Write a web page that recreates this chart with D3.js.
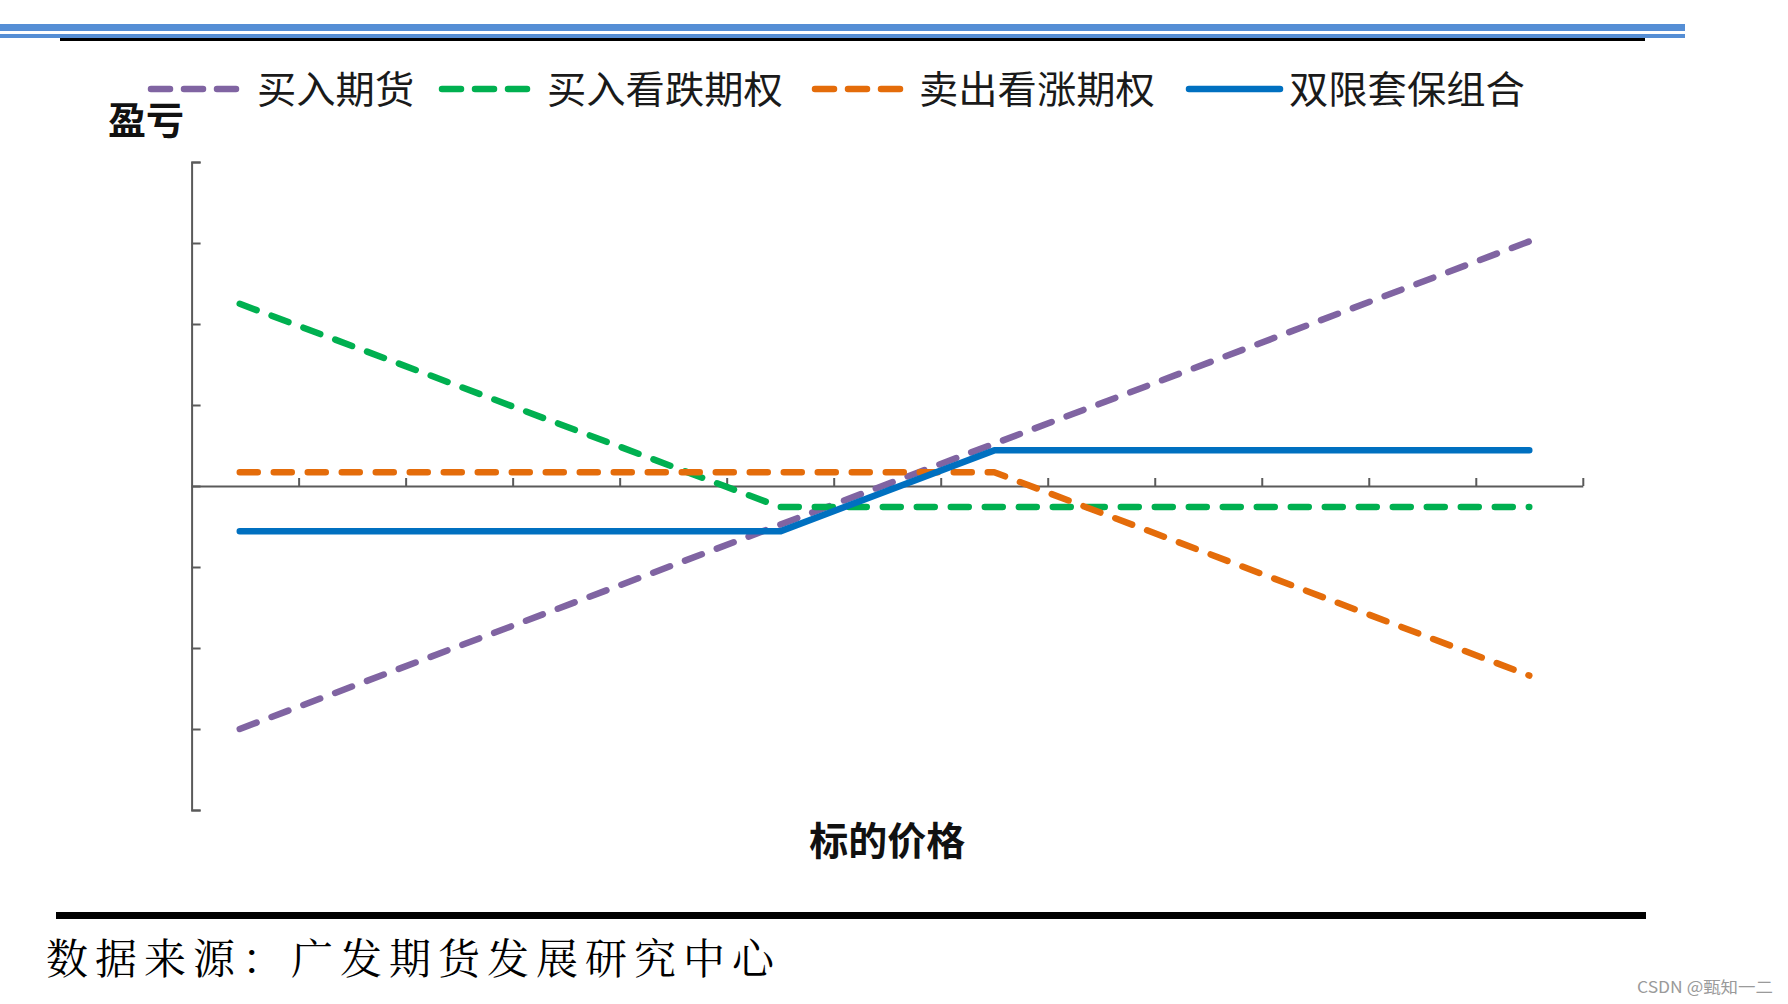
<!DOCTYPE html>
<html>
<head>
<meta charset="utf-8">
<script src="https://cdn.jsdelivr.net/npm/d3@7"></script>
<style>
  html, body { margin: 0; padding: 0; background: #fff; }
  svg { display: block; }
</style>
</head>
<body>
<script>
// ---- data ----
const xDomain = [0, 13];
const yDomain = [-4, 4];
const xTickValues = [1, 2, 3, 4, 5, 6, 7, 8, 9, 10, 11, 12, 13];
const yTickValues = [-4, -3, -2, -1, 0, 1, 2, 3, 4];

const seriesNames = ["买入期货", "买入看跌期权", "卖出看涨期权", "双限套保组合"];
const futuresX = [0.45, 12.5];
const futuresY = [-3.0, 3.02];
const putX = [0.45, 5.5, 12.5];
const putY = [2.25, -0.26, -0.26];
const callX = [0.45, 7.5, 12.5];
const callY = [0.17, 0.17, -2.34];
const collarX = [0.45, 5.5, 7.5, 12.5];
const collarY = [-0.56, -0.56, 0.44, 0.44];

const yLabel = "盈亏";
const xLabel = "标的价格";
const sourceText = "数据来源：广发期货发展研究中心";
const watermark = "CSDN @甄知一二";

// ---- styles ----
const colors = ["#8064A2", "#00B050", "#E46C0A", "#0070C0"];
const dashed = [true, true, true, false];

const W = 1788, H = 1004;
const svg = d3.select("body").append("svg").attr("width", W).attr("height", H);
svg.append("rect").attr("width", W).attr("height", H).attr("fill", "#fff");

// header rules
svg.append("rect").attr("x", 0).attr("y", 24).attr("width", 1685).attr("height", 7).attr("fill", "#558ED5");
svg.append("rect").attr("x", 0).attr("y", 34).attr("width", 1685).attr("height", 4).attr("fill", "#558ED5");
svg.append("rect").attr("x", 60).attr("y", 38).attr("width", 1585).attr("height", 3).attr("fill", "#000");

// footer rule
svg.append("rect").attr("x", 56).attr("y", 912).attr("width", 1590).attr("height", 7).attr("fill", "#000");

const x = d3.scaleLinear().domain(xDomain).range([191.6, 1582.8]);
const y = d3.scaleLinear().domain(yDomain).range([810, 162]);

// y axis
const yAxis = svg.append("g").attr("transform", `translate(${x(0)},0)`)
  .call(d3.axisLeft(y).tickValues(yTickValues).tickSize(-9).tickSizeOuter(-9).tickFormat(""));
yAxis.selectAll("path, line").attr("stroke", "#5a5a5a").attr("stroke-width", 2);

// x axis
const xAxis = svg.append("g").attr("transform", `translate(0,${y(0)})`)
  .call(d3.axisBottom(x).tickValues(xTickValues).tickSize(-8).tickSizeOuter(0).tickFormat(""));
xAxis.selectAll("path, line").attr("stroke", "#5a5a5a").attr("stroke-width", 2);

// lines
const seriesXs = [futuresX, putX, callX, collarX];
const seriesYs = [futuresY, putY, callY, collarY];
const line = d3.line().x(d => x(d[0])).y(d => y(d[1]));
seriesXs.forEach((xs, i) => {
  const pts = xs.map((v, j) => [v, seriesYs[i][j]]);
  const p = svg.append("path").datum(pts).attr("d", line)
    .attr("fill", "none").attr("stroke", colors[i]).attr("stroke-width", 6.5)
    .attr("stroke-linejoin", "round");
  if (dashed[i]) p.attr("stroke-dasharray", "18,16").attr("stroke-linecap", "round");
  else p.attr("stroke-linecap", "round");
});

// legend
const legendSym = [[148, 239], [439, 530], [812, 903], [1186, 1283]];
const legendText = [257, 547, 919, 1289];
const legendY = 86;
seriesNames.forEach((name, i) => {
  const l = svg.append("line").attr("x1", legendSym[i][0] + 3).attr("x2", legendSym[i][1] - 3)
    .attr("y1", legendY + 3).attr("y2", legendY + 3)
    .attr("stroke", colors[i]).attr("stroke-width", 6.5).attr("stroke-linecap", "round");
  if (dashed[i]) l.attr("stroke-dasharray", "19,14");
  svg.append("text").attr("x", legendText[i]).attr("y", legendY)
    .attr("dominant-baseline", "central")
    .attr("font-family", "'Noto Sans CJK SC', sans-serif").attr("font-size", 38)
    .attr("fill", "#1a1a1a").attr("textLength", name.length * 39.3).attr("lengthAdjust", "spacingAndGlyphs")
    .text(name);
});

// axis titles
svg.append("text").attr("x", 108).attr("y", 117).attr("dominant-baseline", "central")
  .attr("font-family", "'Noto Sans CJK SC', sans-serif").attr("font-size", 38).attr("font-weight", 700)
  .attr("fill", "#111").text(yLabel);
svg.append("text").attr("x", (x(xDomain[0]) + x(xDomain[1])) / 2).attr("y", 838)
  .attr("text-anchor", "middle").attr("dominant-baseline", "central")
  .attr("font-family", "'Noto Sans CJK SC', sans-serif").attr("font-size", 39).attr("font-weight", 700)
  .attr("fill", "#111").text(xLabel);

// source
svg.append("text").attr("x", 46).attr("y", 956).attr("dominant-baseline", "central")
  .attr("font-family", "'Noto Serif CJK SC', 'Noto Sans CJK SC', serif").attr("font-size", 42)
  .attr("fill", "#000").attr("textLength", 728).attr("lengthAdjust", "spacing")
  .text(sourceText);

// watermark
svg.append("text").attr("x", 1637).attr("y", 986).attr("dominant-baseline", "central")
  .attr("font-family", "'Noto Sans CJK SC', sans-serif").attr("font-size", 16)
  .attr("fill", "#9a9a9a").attr("textLength", 136).attr("lengthAdjust", "spacingAndGlyphs")
  .text(watermark);
</script>
</body>
</html>
